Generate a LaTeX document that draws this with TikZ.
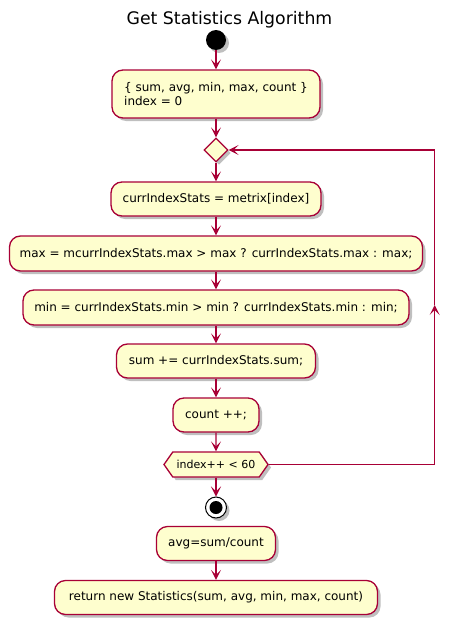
\documentclass[tikz,border=0pt]{standalone}
\usepackage{fontspec}
\setmainfont{DejaVu Sans}
\usetikzlibrary{arrows.meta,shapes.geometric,shapes.symbols,shadows}
\definecolor{pbord}{HTML}{A80036}
\definecolor{pfill}{HTML}{FEFECE}
\begin{document}
\begin{tikzpicture}[x=1pt,y=-1pt,
  shd/.style={drop shadow={shadow xshift=3pt, shadow yshift=-3pt, opacity=0.25, fill=black}},
  act/.style={shape=rectangle, draw=pbord, fill=pfill, line width=1.3pt, rounded corners=11pt,
    minimum height=34pt, inner xsep=0pt, inner ysep=0pt, font=\fontsize{12}{14.5}\selectfont, shd},
  dia/.style={shape=diamond, draw=pbord, fill=pfill, line width=1.3pt, minimum width=24pt,
    minimum height=24pt, inner sep=0pt, shd},
  hex/.style={shape=signal, signal to=west and east, signal pointer angle=110, draw=pbord,
    fill=pfill, line width=1.3pt, minimum width=104pt, minimum height=25pt, inner sep=0pt,
    font=\fontsize{11}{13}\selectfont, shd},
  startc/.style={shape=circle, fill=black, minimum size=20pt, inner sep=0pt, shd},
  stopc/.style={shape=circle, draw=black, fill=white, line width=1pt, minimum size=21pt, inner sep=0pt,
    path picture={\fill[black] (path picture bounding box.center) circle (6.5pt);}, shd},
  conn/.style={draw=pbord, line width=1.3pt},
  arr/.style={conn, -{Stealth[length=10pt,width=10pt,inset=5pt]}}
]
\useasboundingbox (0,0) rectangle (459,624);
\node[font=\fontsize{17.3}{20}\selectfont] (title) at (229.5,20) {Get Statistics Algorithm};
\node[startc] (start) at (216,40) {};
\node[act, minimum width=208pt, minimum height=48pt, align=left] (init) at (216,94)
  {\{ sum, avg, min, max, count \}\\index = 0};
\node[dia] (loop) at (216,150) {};
\node[act, minimum width=210pt] (curr) at (216,199) {currIndexStats = metrix[index]};
\node[act, minimum width=413pt, minimum height=35pt] (max) at (216,253.5)
  {max = mcurrIndexStats.max > max ? currIndexStats.max : max;};
\node[act, minimum width=386pt, minimum height=35pt] (min) at (216,307.5)
  {min = currIndexStats.min > min ? currIndexStats.min : min;};
\node[act, minimum width=199pt] (sum) at (216,361) {sum += currIndexStats.sum;};
\node[act, minimum width=86pt] (count) at (216,415) {count ++;};
\node[hex] (cond) at (216,464.5) {index++ < 60};
\node[stopc] (stop) at (216,507.5) {};
\node[act, minimum width=119pt] (avg) at (216,543.5) {avg=sum/count};
\node[act, minimum width=323pt] (ret) at (216,597.5) {return new Statistics(sum, avg, min, max, count)};
\coordinate (lb) at (434.7,464.5);
\coordinate (lm) at (434.7,305);
\coordinate (lt) at (434.7,150);
\draw[arr] (start) -- (init);
\draw[arr] (init) -- (loop);
\draw[arr] (loop) -- (curr);
\draw[arr] (curr) -- (max);
\draw[arr] (max) -- (min);
\draw[arr] (min) -- (sum);
\draw[arr] (sum) -- (count);
\draw[arr] (count) -- (cond);
\draw[arr] (cond) -- (stop);
\draw[arr] (avg) -- (ret);
\draw[arr] (cond.east) -- (lb) -- (lm);
\draw[arr] (lm) -- (lt) -- (loop.east);
\end{tikzpicture}
\end{document}
